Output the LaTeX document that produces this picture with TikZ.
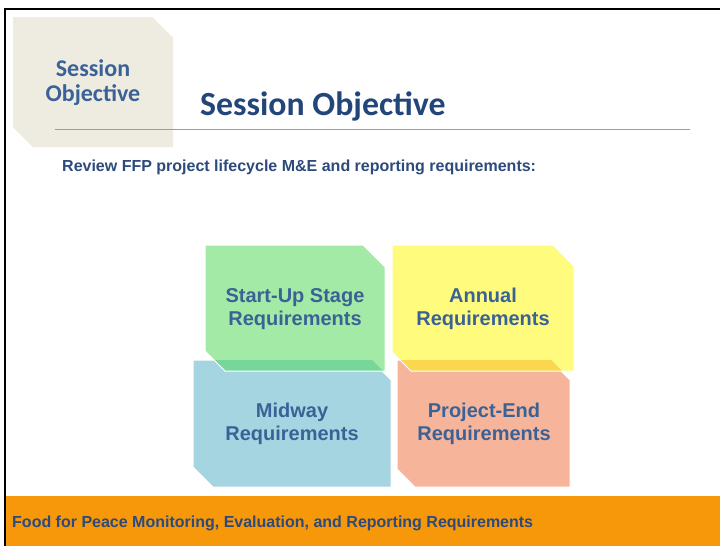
\documentclass[tikz,border=0pt]{standalone}
\usepackage{fontspec}
\setmainfont{Liberation Sans}
\newfontfamily\calib{Carlito}
\definecolor{beige}{HTML}{EEEBE1}
\definecolor{greenL}{HTML}{A3EAA7}
\definecolor{greenD}{HTML}{77D79B}
\definecolor{yellowL}{HTML}{FFFB7D}
\definecolor{yellowD}{HTML}{FAD74F}
\definecolor{blueL}{HTML}{A6D5E2}
\definecolor{salmonL}{HTML}{F6B59A}
\definecolor{footorange}{HTML}{F7970A}
\definecolor{rulecol}{HTML}{7FA2D6}
\definecolor{titleblue}{HTML}{23467A}
\definecolor{boxblue}{HTML}{3A6297}
\definecolor{subblue}{HTML}{2C4A7C}
\tikzset{
  facebox/.style={draw=white, line width=1pt},
  reqtext/.style={align=center, inner sep=0pt, text=boxblue,
    font=\bfseries\fontsize{20}{23}\selectfont},
}
\begin{document}
\begin{tikzpicture}[x=1pt,y=-1pt]
\useasboundingbox (0,0) rectangle (720,546);
\fill[white] (0,0) rectangle (720,546);
% frame
\draw[black, line width=2pt] (5,546) -- (5,9) -- (720,9);
% footer band
\fill[footorange] (6,496) rectangle (720,546);
% session tag
\fill[beige] (13,17) -- (152,17) -- (173,38) -- (173,147) -- (33,147) -- (13,127) -- cycle;
\node[align=center, inner sep=0pt, text=boxblue, font=\calib\bfseries\fontsize{24}{25}\selectfont] (tag) at (93,83) {Session\\Objective};
% title
\node[anchor=base west, inner sep=0pt, text=titleblue, font=\calib\bfseries\fontsize{33.8}{36}\selectfont] (title) at (200,115) {Session Objective};
\draw[rulecol, line width=1.5pt] (55,129.5) -- (690,129.5);
% subtitle
\node[anchor=base west, inner sep=0pt, text=subblue, font=\bfseries\fontsize{16}{18}\selectfont] (sub) at (62,171) {Review FFP project lifecycle M\&E and reporting requirements:};
% bottom boxes
\filldraw[facebox, fill=blueL] (193,360) -- (371,360) -- (391,380) -- (391,487) -- (213,487) -- (193,467) -- cycle;
\filldraw[facebox, fill=salmonL] (397,360) -- (550,360) -- (570,380) -- (570,487) -- (415,487) -- (397,469) -- cycle;
% top boxes
\fill[greenL] (205,245) -- (363,245) -- (385,267) -- (385,371) -- (225,371) -- (205,351) -- cycle;
\fill[greenD] (214,360) -- (372,360) -- (383,371) -- (225,371) -- cycle;
\draw[facebox] (205,245) -- (363,245) -- (385,267) -- (385,371) -- (225,371) -- (205,351) -- cycle;
\fill[yellowL] (392,245) -- (553,245) -- (574,266) -- (574,371) -- (411,371) -- (392,352) -- cycle;
\fill[yellowD] (400,360) -- (551,360) -- (562,371) -- (411,371) -- cycle;
\draw[facebox] (392,245) -- (553,245) -- (574,266) -- (574,371) -- (411,371) -- (392,352) -- cycle;
% texts
\node[reqtext] (start) at (295,309) {Start-Up Stage\\Requirements};
\node[reqtext] (annual) at (483,309) {Annual\\Requirements};
\node[reqtext] (midway) at (292,424) {Midway\\Requirements};
\node[reqtext] (pend) at (484,424) {Project-End\\Requirements};
% footer text
\node[anchor=base west, inner sep=0pt, text=subblue, font=\bfseries\fontsize{16}{18}\selectfont] (foot) at (12,527) {Food for Peace Monitoring, Evaluation, and Reporting Requirements};
\end{tikzpicture}
\end{document}
